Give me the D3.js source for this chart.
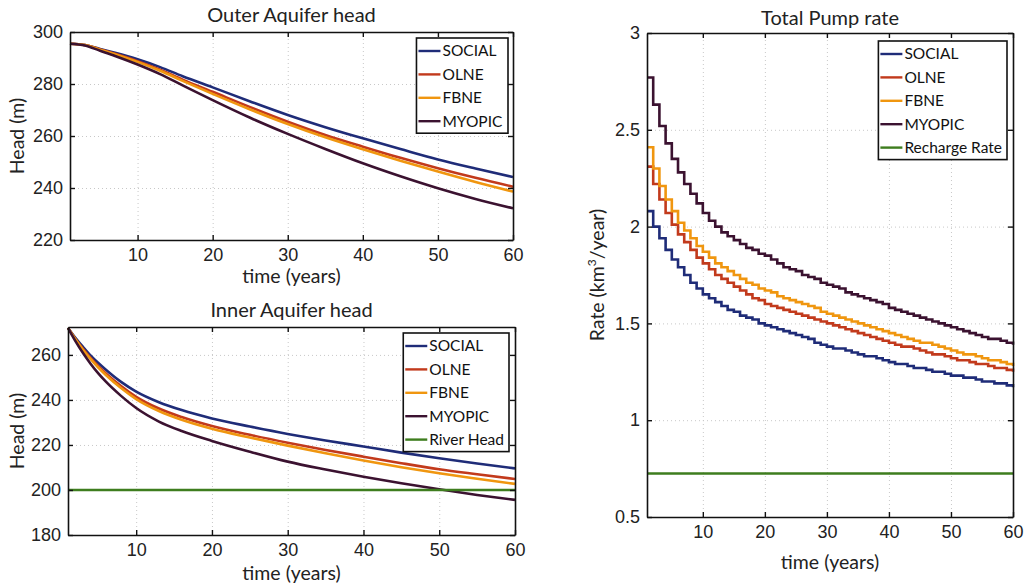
<!DOCTYPE html>
<html>
<head>
<meta charset="utf-8">
<script src="https://cdn.jsdelivr.net/npm/d3@7"></script>
<style>
  body { margin: 0; background: #fff; }
  svg { font-family: Lato, "Open Sans", sans-serif; }
  .grid line { stroke: #c8c8c8; stroke-dasharray: 1,3; }
  .grid .domain { display: none; }
</style>
</head>
<body>
<svg id="chart" width="1026" height="586"></svg>
<script>
// ---- data ----
const seriesNames = ["SOCIAL", "OLNE", "FBNE", "MYOPIC"];
const colors = { SOCIAL: "#1f2c78", OLNE: "#c23a1c", FBNE: "#f0960f", MYOPIC: "#3b1230", green: "#3e7d1e" };

// Outer aquifer head (m) at sampled years
const outerYears = [1, 3, 5, 7, 10, 13, 16, 20, 25, 30, 35, 40, 45, 50, 55, 60];
const outerSocial = [295.5, 295, 293.5, 292, 289.5, 286.5, 283, 278.7, 273.3, 268.1, 263.4, 259.1, 255, 251, 247.5, 244.2];
const outerOlne   = [295.5, 295, 293.3, 291.6, 288.8, 285.5, 281.7, 277.0, 271.1, 265.5, 260.4, 255.9, 251.6, 247.6, 243.9, 240.5];
const outerFbne   = [295.5, 295, 293.2, 291.4, 288.5, 285.1, 281.2, 276.2, 270.2, 264.6, 259.5, 254.9, 250.5, 246.3, 242.3, 238.6];
const outerMyopic = [295.5, 294.8, 292.8, 290.8, 287.5, 283.8, 279.5, 273.8, 267.0, 260.8, 255.0, 249.5, 244.5, 239.9, 235.8, 232.2];

// Inner aquifer head (m) at sampled years
const innerYears = [1, 2, 3, 4, 5, 6, 8, 10, 13, 16, 20, 25, 30, 35, 40, 45, 50, 55, 60];
const innerSocial = [272, 267.5, 263.5, 259.7, 256.4, 253.4, 248.0, 243.7, 239.0, 235.5, 231.8, 228.2, 224.9, 222, 219.3, 216.6, 214.1, 211.8, 209.6];
const innerOlne   = [272, 267, 262.6, 258.6, 255.0, 251.8, 246.2, 241.4, 236.2, 232.4, 228.4, 224.5, 221, 217.8, 214.8, 211.9, 209.2, 207, 204.9];
const innerFbne   = [272, 266.8, 262.2, 258.1, 254.4, 251.1, 245.3, 240.4, 235.1, 231.2, 227.2, 223.3, 219.7, 216.3, 213.1, 210.1, 207.4, 205, 202.7];
const innerMyopic = [272, 266, 260.7, 256.0, 251.8, 248.1, 241.8, 236.4, 230.4, 226.2, 221.8, 217.0, 212.6, 209.1, 205.9, 203, 200.3, 197.8, 195.6];
const riverHead = 200;

// Total pump rate (km3/year), one value per year 1..60
const pumpSocial = [2.08, 2.00, 1.94, 1.88, 1.83, 1.79, 1.75, 1.71, 1.68, 1.65,
  1.63, 1.61, 1.59, 1.57, 1.56, 1.54, 1.53, 1.52, 1.50, 1.49,
  1.48, 1.47, 1.46, 1.45, 1.44, 1.43, 1.42, 1.40, 1.39, 1.38,
  1.37, 1.37, 1.36, 1.35, 1.34, 1.33, 1.33, 1.32, 1.31, 1.30,
  1.29, 1.29, 1.28, 1.27, 1.27, 1.26, 1.25, 1.25, 1.24, 1.23,
  1.23, 1.22, 1.22, 1.21, 1.20, 1.20, 1.19, 1.19, 1.18, 1.17];
const pumpOlne = [2.31, 2.22, 2.14, 2.07, 2.01, 1.96, 1.92, 1.88, 1.84, 1.81,
  1.78, 1.75, 1.73, 1.71, 1.69, 1.67, 1.65, 1.63, 1.62, 1.60,
  1.59, 1.58, 1.57, 1.56, 1.55, 1.54, 1.53, 1.52, 1.51, 1.50,
  1.49, 1.48, 1.47, 1.46, 1.45, 1.44, 1.43, 1.42, 1.41, 1.40,
  1.39, 1.38, 1.38, 1.37, 1.36, 1.35, 1.34, 1.34, 1.33, 1.32,
  1.31, 1.31, 1.30, 1.29, 1.29, 1.28, 1.27, 1.27, 1.26, 1.25];
const pumpFbne = [2.41, 2.30, 2.21, 2.14, 2.08, 2.02, 1.98, 1.94, 1.90, 1.87,
  1.84, 1.81, 1.79, 1.77, 1.75, 1.73, 1.71, 1.70, 1.68, 1.67,
  1.66, 1.64, 1.63, 1.62, 1.61, 1.60, 1.59, 1.58, 1.56, 1.55,
  1.54, 1.53, 1.52, 1.51, 1.50, 1.49, 1.48, 1.47, 1.46, 1.45,
  1.44, 1.43, 1.42, 1.41, 1.40, 1.40, 1.39, 1.38, 1.37, 1.36,
  1.35, 1.34, 1.34, 1.33, 1.32, 1.31, 1.31, 1.30, 1.29, 1.28];
const pumpMyopic = [2.77, 2.63, 2.52, 2.43, 2.35, 2.28, 2.22, 2.17, 2.12, 2.07,
  2.03, 2.00, 1.97, 1.95, 1.93, 1.91, 1.89, 1.88, 1.86, 1.85,
  1.83, 1.81, 1.79, 1.78, 1.77, 1.75, 1.74, 1.73, 1.71, 1.70,
  1.69, 1.68, 1.66, 1.65, 1.64, 1.63, 1.62, 1.61, 1.60, 1.58,
  1.57, 1.56, 1.55, 1.54, 1.53, 1.52, 1.51, 1.50, 1.49, 1.48,
  1.47, 1.46, 1.45, 1.44, 1.43, 1.42, 1.42, 1.41, 1.40, 1.39];
const rechargeRate = 0.725;

const xTicks = [10, 20, 30, 40, 50, 60];
const outerTicks = [220, 240, 260, 280, 300];
const innerTicks = [180, 200, 220, 240, 260];
const pumpTicks = [0.5, 1, 1.5, 2, 2.5, 3];

const svg = d3.select("#chart");
const zip = (xs, ys) => xs.map((x, i) => ({ x: x, y: ys[i] }));
const years = d3.range(1, 61);

function drawPanel(p) {
  const width = p.right - p.left, height = p.bottom - p.top;
  const g = svg.append("g").attr("transform", `translate(${p.left},${p.top})`);
  const x = d3.scaleLinear().domain([1, 60]).range([0, width]);
  const y = d3.scaleLinear().domain(p.yDomain).range([height, 0]);

  // dotted grid
  g.append("g").attr("class", "grid")
    .attr("transform", `translate(0,${height})`)
    .call(d3.axisBottom(x).tickValues(xTicks).tickSize(-height).tickFormat(""));
  g.append("g").attr("class", "grid")
    .call(d3.axisLeft(y).tickValues(p.yTicks).tickSize(-width).tickFormat(""));

  // series
  const line = d3.line().x(d => x(d.x)).y(d => y(d.y)).curve(p.curve);
  p.series.forEach(s => {
    g.append("path")
      .datum(s.values)
      .attr("fill", "none")
      .attr("stroke", s.color)
      .attr("stroke-width", 2.6)
      .attr("stroke-linejoin", "miter")
      .attr("d", line);
  });

  // axes with inward ticks, MATLAB box style
  const tickFont = g => g.selectAll("text").style("font-size", "18px").attr("fill", "#222");
  g.append("g").attr("transform", `translate(0,${height})`)
    .call(d3.axisBottom(x).tickValues(xTicks).tickSizeInner(-5).tickSizeOuter(0).tickPadding(8))
    .call(tickFont);
  g.append("g")
    .call(d3.axisLeft(y).tickValues(p.yTicks).tickSizeInner(-5).tickSizeOuter(0).tickPadding(7).tickFormat(d => d))
    .call(tickFont);
  g.append("g")
    .call(d3.axisTop(x).tickValues(xTicks).tickSizeInner(-5).tickSizeOuter(0).tickFormat(""));
  g.append("g").attr("transform", `translate(${width},0)`)
    .call(d3.axisRight(y).tickValues(p.yTicks).tickSizeInner(-5).tickSizeOuter(0).tickFormat(""));
  g.selectAll(".domain").attr("stroke", "#111").attr("stroke-width", 1.6);
  g.selectAll(".tick line").attr("stroke", "#111").attr("stroke-width", 1.4);
  g.selectAll(".grid .tick line").attr("stroke", "#c8c8c8").attr("stroke-width", 1);

  // titles and labels
  g.append("text").attr("x", width / 2).attr("y", p.titleY)
    .attr("text-anchor", "middle").style("font-size", "20px").attr("fill", "#222")
    .text(p.title);
  g.append("text").attr("x", width / 2).attr("y", height + p.xLabelY)
    .attr("text-anchor", "middle").style("font-size", "19.5px").attr("fill", "#222")
    .text("time (years)");
  const yl = g.append("text")
    .attr("transform", `translate(${p.yLabelX},${height / 2}) rotate(-90)`)
    .attr("text-anchor", "middle").style("font-size", "19.5px").attr("fill", "#222");
  if (p.yLabelSup) {
    yl.append("tspan").text("Rate (km");
    yl.append("tspan").attr("dy", -8).style("font-size", "12px").text("3");
    yl.append("tspan").attr("dy", 8).text("/year)");
  } else {
    yl.text(p.yLabel);
  }

  // legend
  const lg = g.append("g");
  const rowH = 23.4;
  const items = lg.selectAll("g").data(p.series).join("g")
    .attr("transform", (d, i) => `translate(0,${13 + i * rowH})`);
  items.append("line").attr("x1", 2).attr("x2", 24).attr("stroke", d => d.color).attr("stroke-width", 2.4);
  items.append("text").attr("x", 26).attr("dy", "0.35em")
    .style("font-size", "15.5px").attr("fill", "#111").text(d => d.name);
  const tw = d3.max(items.selectAll("text").nodes(), n => n.getBBox().width);
  const lw = 26 + tw + 5, lh = 13 + (p.series.length - 1) * rowH + 12;
  lg.insert("rect", ":first-child").attr("width", lw).attr("height", lh)
    .attr("fill", "#fff").attr("stroke", "#111").attr("stroke-width", 1.6);
  lg.attr("transform", `translate(${width - p.legendRight - lw},${p.legendTop})`);
}

drawPanel({
  left: 70, top: 32, right: 513, bottom: 240,
  yDomain: [220, 300], yTicks: outerTicks, curve: d3.curveMonotoneX,
  title: "Outer Aquifer head", titleY: -10, xLabelY: 43, yLabel: "Head (m)", yLabelX: -46,
  legendRight: 5, legendTop: 6,
  series: [
    { name: "SOCIAL", color: colors.SOCIAL, values: zip(outerYears, outerSocial) },
    { name: "OLNE", color: colors.OLNE, values: zip(outerYears, outerOlne) },
    { name: "FBNE", color: colors.FBNE, values: zip(outerYears, outerFbne) },
    { name: "MYOPIC", color: colors.MYOPIC, values: zip(outerYears, outerMyopic) }
  ]
});

drawPanel({
  left: 68, top: 327, right: 515, bottom: 535,
  yDomain: [180, 272.4], yTicks: innerTicks, curve: d3.curveMonotoneX,
  title: "Inner Aquifer head", titleY: -10, xLabelY: 45, yLabel: "Head (m)", yLabelX: -44,
  legendRight: 6, legendTop: 6,
  series: [
    { name: "SOCIAL", color: colors.SOCIAL, values: zip(innerYears, innerSocial) },
    { name: "OLNE", color: colors.OLNE, values: zip(innerYears, innerOlne) },
    { name: "FBNE", color: colors.FBNE, values: zip(innerYears, innerFbne) },
    { name: "MYOPIC", color: colors.MYOPIC, values: zip(innerYears, innerMyopic) },
    { name: "River Head", color: colors.green, values: years.map(t => ({ x: t, y: riverHead })) }
  ]
});

drawPanel({
  left: 647, top: 33, right: 1013, bottom: 517,
  yDomain: [0.5, 3], yTicks: pumpTicks, curve: d3.curveStepAfter,
  title: "Total Pump rate", titleY: -8, xLabelY: 52, yLabelSup: true, yLabelX: -43,
  legendRight: 6, legendTop: 8,
  series: [
    { name: "SOCIAL", color: colors.SOCIAL, values: zip(years, pumpSocial) },
    { name: "OLNE", color: colors.OLNE, values: zip(years, pumpOlne) },
    { name: "FBNE", color: colors.FBNE, values: zip(years, pumpFbne) },
    { name: "MYOPIC", color: colors.MYOPIC, values: zip(years, pumpMyopic) },
    { name: "Recharge Rate", color: colors.green, values: years.map(t => ({ x: t, y: rechargeRate })) }
  ]
});
</script>
</body>
</html>
